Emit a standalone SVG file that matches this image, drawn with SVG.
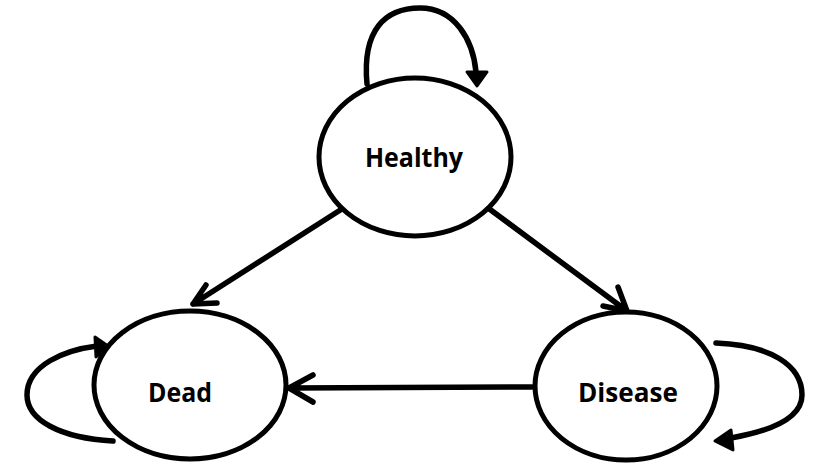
<svg xmlns="http://www.w3.org/2000/svg" width="814" height="464" viewBox="0 0 814 464">
<style>
.node{fill:#fff;stroke:#000;stroke-width:5}
.lbl{font-family:"Open Sans","Liberation Sans",sans-serif;font-weight:bold;font-size:27px;fill:#000;text-anchor:middle}
.edge{fill:none;stroke:#000;stroke-width:5.5;stroke-linecap:round;stroke-linejoin:round}
.head{fill:#000;stroke:#000;stroke-width:3;stroke-linejoin:round}
</style>
<rect width="814" height="464" fill="#fff"/>
<g id="connectors">
<path class="edge" d="M367,84 C362,30 385,8 420,8 C455,8 473,40 476,72"/>
<polygon class="head" points="467,72 487,72 477,86"/>
<path class="edge" d="M345,207 L193,304 M193,304 L206,285 M193,304 L217,303"/>
<path class="edge" d="M484,205 L627,311 M627,311 L618,287 M627,311 L603,306"/>
<path class="edge" d="M532,387 L289,388 M289,388 L313,375 M289,388 L313,402"/>
<path class="edge" d="M113,441 C60,438 27,420 27,395 C27,365 65,350 97,346"/>
<polygon class="head" points="95,337 96,357 108,346"/>
<path class="edge" d="M716,343 C770,345 802,365 802,395 C802,420 765,432 731,438"/>
<polygon class="head" points="731,430 733,450 715,441"/>
</g>
<g id="healthy">
<ellipse class="node" cx="415" cy="157" rx="96" ry="79"/>
<text class="lbl" x="414" y="167" textLength="98" lengthAdjust="spacingAndGlyphs">Healthy</text>
</g>
<g id="dead">
<ellipse class="node" cx="190" cy="385" rx="96" ry="74"/>
<text class="lbl" x="180" y="402" textLength="64" lengthAdjust="spacingAndGlyphs">Dead</text>
</g>
<g id="disease">
<ellipse class="node" cx="626" cy="386" rx="91" ry="74"/>
<text class="lbl" x="628" y="402" textLength="100" lengthAdjust="spacingAndGlyphs">Disease</text>
</g>
</svg>
